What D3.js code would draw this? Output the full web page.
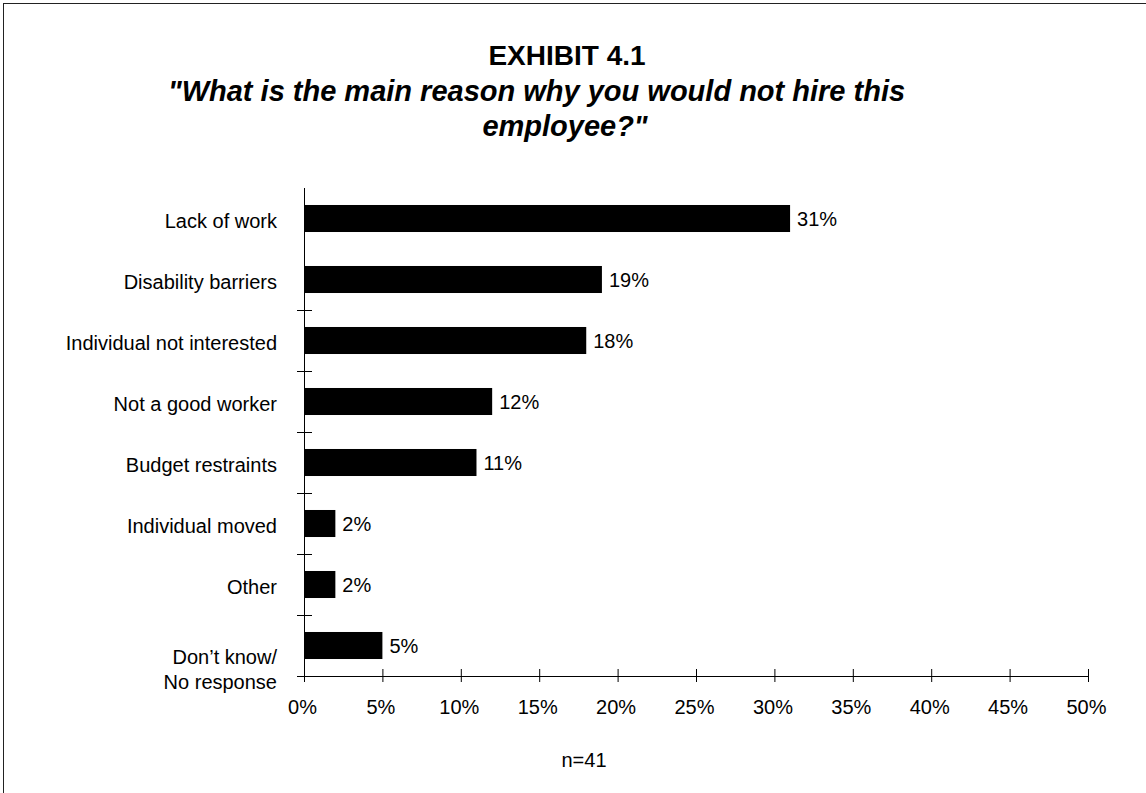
<!DOCTYPE html>
<html>
<head>
<meta charset="utf-8">
<script src="https://cdn.jsdelivr.net/npm/d3@7"></script>
<style>
  html, body { margin: 0; padding: 0; background: #fff; }
  svg { display: block; font-family: "Liberation Sans", Arial, sans-serif; }
</style>
</head>
<body>
<svg id="chart" width="1146" height="793"></svg>
<script>
// ---- data ----
const categories = ["Lack of work", "Disability barriers", "Individual not interested", "Not a good worker",
  "Budget restraints", "Individual moved", "Other", "Don\u2019t know/\nNo response"];
const values = [31, 19, 18, 12, 11, 2, 2, 5];
const xTicks = [0, 5, 10, 15, 20, 25, 30, 35, 40, 45, 50];
const titleLines = ["EXHIBIT 4.1", "\"What is the main reason why you would not hire this", "employee?\""];
const footnote = "n=41";

(function () {
// ---- layout ----
const svg = d3.select("#chart");
const W = 1146, H = 793;
const pLeft = 304, pRight = 1088, pTop = 188, pBottom = 676;
const pad = 0.557;

// frame (only top/left edges visible)
svg.append("rect").attr("x", 3.5).attr("y", 3.5).attr("width", W + 20).attr("height", H + 20)
  .attr("fill", "none").attr("stroke", "#222").attr("stroke-width", 1);

// titles
svg.append("text").attr("x", 567).attr("y", 65).attr("text-anchor", "middle")
  .attr("font-size", 28).attr("font-weight", "bold").text(titleLines[0]);
svg.append("text").attr("x", 536.5).attr("y", 101).attr("text-anchor", "middle")
  .attr("font-size", 29).attr("font-weight", "bold").attr("font-style", "italic").text(titleLines[1]);
svg.append("text").attr("x", 565).attr("y", 136).attr("text-anchor", "middle")
  .attr("font-size", 29).attr("font-weight", "bold").attr("font-style", "italic").text(titleLines[2]);

const x = d3.scaleLinear().domain([0, 50]).range([pLeft, pRight]);
const y = d3.scaleBand().domain(categories).range([pTop, pBottom]).paddingInner(pad).paddingOuter(pad / 2);
const step = y.step();

// bars
svg.append("g").selectAll("rect").data(values).join("rect")
  .attr("x", x(0))
  .attr("y", (d, i) => y(categories[i]))
  .attr("width", d => x(d) - x(0))
  .attr("height", y.bandwidth())
  .attr("fill", "#000");

// value labels
svg.append("g").selectAll("text").data(values).join("text")
  .attr("x", d => x(d) + 7)
  .attr("y", (d, i) => y(categories[i]) + y.bandwidth() / 2 + 7)
  .attr("font-size", 20).attr("fill", "#000")
  .text(d => d + "%");

// x axis
const xAxis = d3.axisBottom(x).tickValues(xTicks).tickFormat(d => d + "%").tickSize(6).tickSizeOuter(0);
const gx = svg.append("g").attr("transform", `translate(0,${pBottom})`).call(xAxis);
gx.select(".domain").attr("stroke", "#000");
gx.selectAll(".tick line").attr("stroke", "#000").attr("y1", -7).attr("y2", 6);
gx.selectAll(".tick text").attr("y", 38).attr("dy", 0).attr("dx", -2)
  .attr("font-size", 20).attr("font-family", "Liberation Sans, Arial, sans-serif").attr("fill", "#000");

// y axis line
svg.append("line").attr("x1", pLeft + 0.5).attr("x2", pLeft + 0.5).attr("y1", pTop).attr("y2", pBottom)
  .attr("stroke", "#000");
// boundary ticks (first boundary between top two categories has none in the original)
const boundaries = categories.slice(2).map(c => y(c) - step * pad / 2).concat([pBottom]);
svg.append("g").selectAll("line").data(boundaries).join("line")
  .attr("x1", pLeft - 7).attr("x2", pLeft + 8)
  .attr("y1", d => Math.round(d) + 0.5).attr("y2", d => Math.round(d) + 0.5)
  .attr("stroke", "#000");

// category labels
const lab = svg.append("g").selectAll("text").data(categories).join("text")
  .attr("text-anchor", "end").attr("font-size", 20).attr("fill", "#000");
lab.each(function (c) {
  const lines = c.split("\n");
  const cy = y(c) + y.bandwidth() / 2;
  const t = d3.select(this);
  if (lines.length === 1) {
    t.append("tspan").attr("x", 277).attr("y", cy + 9.5).text(lines[0]);
  } else {
    lines.forEach((l, k) => t.append("tspan").attr("x", 277).attr("y", cy + 18 + k * 25).text(l));
  }
});

// footnote
svg.append("text").attr("x", 584).attr("y", 767).attr("text-anchor", "middle")
  .attr("font-size", 20).attr("fill", "#000").text(footnote);
})();
</script>
</body>
</html>
